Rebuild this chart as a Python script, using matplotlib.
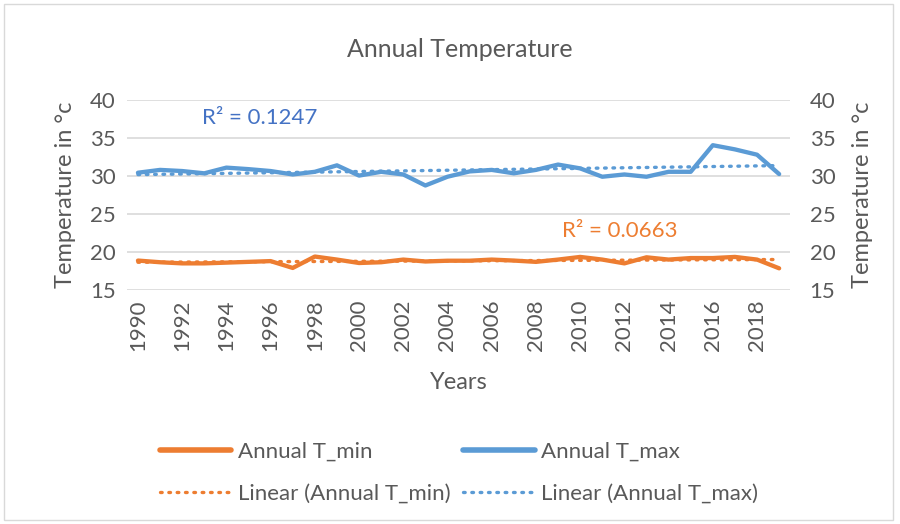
import numpy as np
import matplotlib
matplotlib.use("Agg")
import matplotlib.pyplot as plt
from matplotlib.patches import Rectangle
from matplotlib.lines import Line2D

years = list(range(1990, 2020))
t_min = [18.87, 18.65, 18.5, 18.5, 18.6, 18.7, 18.8, 17.9, 19.4, 19.0,
         18.55, 18.65, 19.0, 18.75, 18.85, 18.85, 19.0, 18.87, 18.7, 19.0,
         19.35, 19.0, 18.5, 19.3, 19.0, 19.2, 19.2, 19.35, 19.0, 17.85]
t_max = [30.43, 30.8, 30.65, 30.35, 31.1, 30.9, 30.65, 30.2, 30.55, 31.4,
         30.05, 30.55, 30.2, 28.75, 29.9, 30.6, 30.8, 30.35, 30.8, 31.5,
         31.0, 29.9, 30.2, 29.9, 30.55, 30.55, 34.05, 33.5, 32.8, 30.25]
r2_min = "R\u00b2 = 0.0663"
r2_max = "R\u00b2 = 0.1247"
y_ticks = [15, 20, 25, 30, 35, 40]

orange = "#ED7D31"
blue = "#5B9BD5"
txt = "#595959"
grid = "#D9D9D9"

plt.rcParams['font.family'] = ['Lato', 'DejaVu Sans']

fig = plt.figure(figsize=(9, 5.24), dpi=100)
ax = fig.add_axes([0.141, 0.4466, 0.737, 0.3626])

x = np.array(years)
# linear trendlines like Excel
fit_min = np.polyval(np.polyfit(x, t_min, 1), x)
fit_max = np.polyval(np.polyfit(x, t_max, 1), x)

dots = (0, (0.5, 2.0))
ax.plot(x, fit_min, color=orange, lw=2.4, linestyle=dots, dash_capstyle='round', zorder=2)
ax.plot(x, fit_max, color=blue, lw=2.4, linestyle=dots, dash_capstyle='round', zorder=2)
ax.plot(x, t_min, color=orange, lw=3.1, solid_capstyle='round', zorder=3)
ax.plot(x, t_max, color=blue, lw=3.1, solid_capstyle='round', zorder=3)

ax.set_xlim(1989.5, 2019.5)
ax.set_ylim(15, 40)
ax.set_yticks(y_ticks)
ax.set_xticks(years[::2])
ax.set_xticklabels([str(y) for y in years[::2]], rotation=90)
ax.yaxis.grid(True, color=grid, lw=1.2)
ax.set_axisbelow(True)
for s in ax.spines.values():
    s.set_visible(False)
ax.tick_params(axis='both', length=0, labelsize=16, colors=txt)
ax.tick_params(axis='x', pad=7)
ax.tick_params(axis='y', pad=8)
ax.set_ylabel("Temperature in \u00b0c", fontsize=17, color=txt, labelpad=10)
ax.set_xlabel("Years", fontsize=17, color=txt, labelpad=15)

ax2 = ax.twinx()
ax2.set_ylim(15, 40)
ax2.set_yticks(y_ticks)
for s in ax2.spines.values():
    s.set_visible(False)
ax2.tick_params(axis='y', length=0, labelsize=16, colors=txt, pad=14)
ax2.set_ylabel("Temperature in \u00b0c", fontsize=17, color=txt, labelpad=12, rotation=90)

ax.text(1995.5, 37.6, r2_max, color="#4472C4", fontsize=16, ha='center', va='center')
ax.text(2011.8, 22.7, r2_min, color=orange, fontsize=16, ha='center', va='center')

fig.text(0.511, 0.905, "Annual Temperature", ha='center', va='center', fontsize=18, color=txt)

handles = [Line2D([], [], color=orange, lw=4, solid_capstyle='round'),
           Line2D([], [], color=orange, lw=2.4, linestyle=dots, dash_capstyle='round'),
           Line2D([], [], color=blue, lw=4, solid_capstyle='round'),
           Line2D([], [], color=blue, lw=2.4, linestyle=dots, dash_capstyle='round')]
labels = ["Annual T_min", "Linear (Annual T_min)", "Annual T_max", "Linear (Annual T_max)"]
leg = fig.legend(handles, labels, ncol=2, loc='center', bbox_to_anchor=(0.51, 0.098),
                 frameon=False, fontsize=16, handlelength=3.2, handletextpad=0.3,
                 columnspacing=0.6, labelspacing=1.0)
for t in leg.get_texts():
    t.set_color(txt)

fig.patches.append(Rectangle((0.004, 0.008), 0.988, 0.985, transform=fig.transFigure,
                             fill=False, edgecolor=grid, lw=1))

fig.savefig("out.png", dpi=100, facecolor="white")
